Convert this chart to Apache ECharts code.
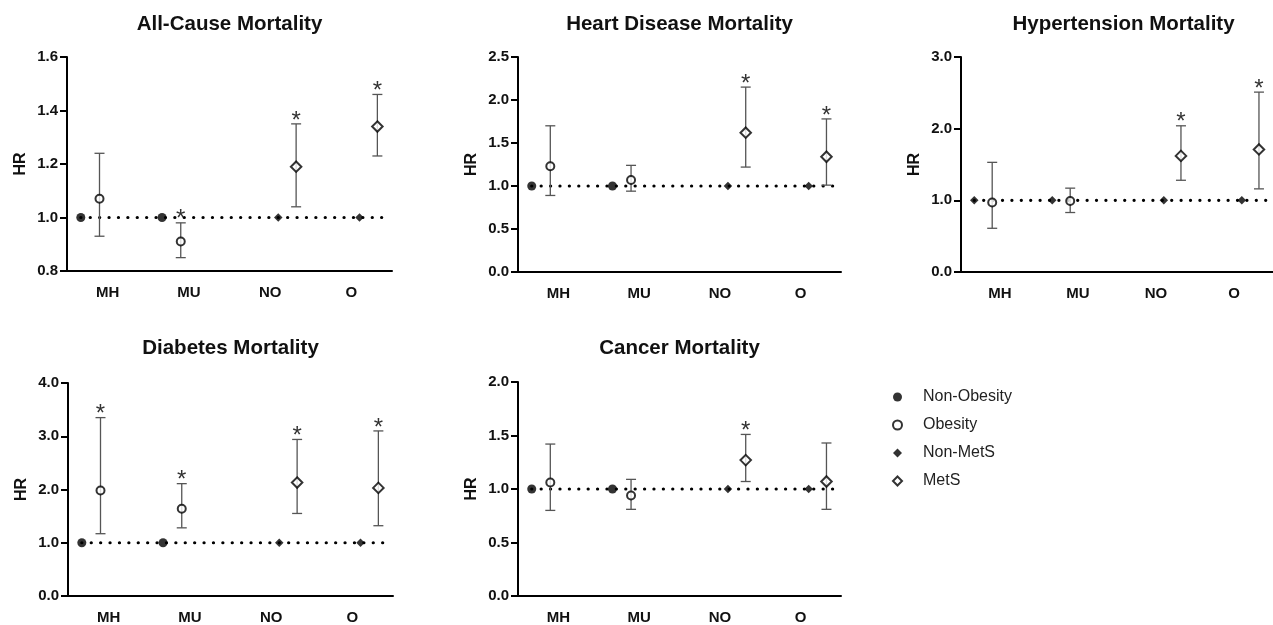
<!DOCTYPE html>
<html>
<head>
<meta charset="utf-8">
<script src="https://cdn.jsdelivr.net/npm/echarts@6/dist/echarts.min.js"></script>
<style>
html,body{margin:0;padding:0;background:#fff;}
#chart{width:1273px;height:625px;}
</style>
</head>
<body>
<div id="chart"></div>
<script>
// ---------- DATA ----------
const categories = ['MH', 'MU', 'NO', 'O'];
const seriesNames = ['Non-Obesity', 'Obesity', 'Non-MetS', 'MetS'];
const panelTitles = ['All-Cause Mortality', 'Heart Disease Mortality', 'Hypertension Mortality', 'Diabetes Mortality', 'Cancer Mortality'];
const yAxisName = 'HR';
const yMin = [0.8, 0, 0, 0, 0];
const yMax = [1.6, 2.5, 3.0, 4.0, 2.0];
const yStep = [0.2, 0.5, 1.0, 1.0, 0.5];
const referenceHR = [1, 1, 1, 1];   // Non-Obesity (MH, MU) and Non-MetS (NO, O)
const refLineValue = 1;

const allCauseHR   = [1.07, 0.91, 1.19, 1.34];
const allCauseLow  = [0.93, 0.85, 1.04, 1.23];
const allCauseHigh = [1.24, 0.98, 1.35, 1.46];
const allCauseSig  = [0, 1, 1, 1];

const heartHR   = [1.23, 1.07, 1.62, 1.34];
const heartLow  = [0.89, 0.94, 1.22, 1.01];
const heartHigh = [1.70, 1.24, 2.15, 1.78];
const heartSig  = [0, 0, 1, 1];

const hypertensionHR   = [0.97, 0.99, 1.62, 1.71];
const hypertensionLow  = [0.61, 0.83, 1.28, 1.16];
const hypertensionHigh = [1.53, 1.17, 2.04, 2.51];
const hypertensionSig  = [0, 0, 1, 1];

const diabetesHR   = [1.98, 1.64, 2.13, 2.03];
const diabetesLow  = [1.17, 1.28, 1.55, 1.32];
const diabetesHigh = [3.35, 2.11, 2.94, 3.10];
const diabetesSig  = [1, 1, 1, 1];

const cancerHR   = [1.06, 0.94, 1.27, 1.07];
const cancerLow  = [0.80, 0.81, 1.07, 0.81];
const cancerHigh = [1.42, 1.09, 1.51, 1.43];
const cancerSig  = [0, 0, 1, 0];

// ---------- LAYOUT ----------
const panels = [
  {hr: allCauseHR, lo: allCauseLow, hi: allCauseHigh, sig: allCauseSig},
  {hr: heartHR, lo: heartLow, hi: heartHigh, sig: heartSig},
  {hr: hypertensionHR, lo: hypertensionLow, hi: hypertensionHigh, sig: hypertensionSig, refDiamond: true},
  {hr: diabetesHR, lo: diabetesLow, hi: diabetesHigh, sig: diabetesSig},
  {hr: cancerHR, lo: cancerLow, hi: cancerHigh, sig: cancerSig}
];
const grids = [
  {left: 67, top: 57, width: 325, height: 214},
  {left: 518, top: 57, width: 323, height: 215},
  {left: 961, top: 57, width: 325, height: 215},
  {left: 68, top: 383, width: 325, height: 214},
  {left: 518, top: 382, width: 323, height: 214}
];
const titleTops = [14, 14, 14, 338, 338];
const refOffset = [-0.33, -0.33, 0.10, 0.10];
const cmpOffset = [-0.10, -0.10, 0.32, 0.32];
const refIsObesity = [true, true, false, false];

const FONT = 'Liberation Sans, Arial, Helvetica, sans-serif';
const INK = '#111';

const option = {
  backgroundColor: '#fff',
  animation: false,
  title: [], grid: [], xAxis: [], yAxis: [], series: [],
  legend: {
    orient: 'vertical',
    left: 892, top: 389,
    itemWidth: 9, itemHeight: 9, itemGap: 12,
    padding: 0,
    textStyle: {fontFamily: FONT, fontSize: 16, color: '#222', padding: [0, 0, 0, 16]},
    data: [
      {name: 'Non-Obesity', icon: 'circle'},
      {name: 'Obesity', icon: 'circle'},
      {name: 'Non-MetS', icon: 'diamond'},
      {name: 'MetS', icon: 'diamond'}
    ],
    selectedMode: false
  }
};

panels.forEach((p, i) => {
  const g = grids[i];
  option.grid.push(Object.assign({containLabel: false}, g));
  option.title.push({
    text: panelTitles[i],
    left: g.left + g.width / 2, top: titleTops[i],
    textAlign: 'center', padding: 0,
    textStyle: {fontFamily: FONT, fontSize: 20.5, fontWeight: 'bold', color: INK}
  });
  // category axis (display)
  option.xAxis.push({
    type: 'category', gridIndex: i, data: categories, boundaryGap: true,
    axisLine: {onZero: false, lineStyle: {color: '#000', width: 2}},
    axisTick: {alignWithLabel: true, length: 7, lineStyle: {color: '#000', width: 2}},
    axisLabel: {fontFamily: FONT, fontSize: 15, fontWeight: 'bold', color: INK, margin: 14},
    splitLine: {show: false}
  });
  // hidden value axis for placing points
  option.xAxis.push({
    type: 'value', gridIndex: i, min: -0.5, max: 3.5, show: false,
    axisLine: {onZero: false}
  });
  option.yAxis.push({
    type: 'value', gridIndex: i, min: yMin[i], max: yMax[i], interval: yStep[i],
    name: yAxisName, nameLocation: 'middle', nameGap: 38,
    nameTextStyle: {fontFamily: FONT, fontSize: 16, fontWeight: 'bold', color: INK},
    axisLine: {show: true, onZero: false, lineStyle: {color: '#000', width: 2}},
    axisTick: {show: true, length: 7, lineStyle: {color: '#000', width: 2}},
    axisLabel: {fontFamily: FONT, fontSize: 15, fontWeight: 'bold', color: INK, margin: 9,
      formatter: v => v.toFixed(1)},
    splitLine: {show: false}
  });
  const xi = i * 2 + 1;

  // dotted reference line
  option.series.push({
    type: 'line', xAxisIndex: xi, yAxisIndex: i, symbol: 'none', silent: true,
    data: [[-0.33, refLineValue], [3.47, refLineValue]],
    lineStyle: {color: '#000', width: 3.2, type: [0.1, 9.3], cap: 'round'},
    z: 1
  });

  // error bars + significance stars
  const ebData = categories.map((c, k) => [k + cmpOffset[k], p.lo[k], p.hi[k], p.sig[k]]);
  option.series.push({
    type: 'custom', xAxisIndex: xi, yAxisIndex: i, silent: true, z: 2,
    encode: {x: 0, y: [1, 2]},
    data: ebData,
    renderItem: (params, api) => {
      const x = api.value(0);
      const lo = api.coord([x, api.value(1)]);
      const hi = api.coord([x, api.value(2)]);
      const hw = 5;
      const ls = {stroke: '#555', lineWidth: 1.3};
      const children = [
        {type: 'line', shape: {x1: lo[0], y1: lo[1], x2: hi[0], y2: hi[1]}, style: ls},
        {type: 'line', shape: {x1: lo[0] - hw, y1: lo[1], x2: lo[0] + hw, y2: lo[1]}, style: ls},
        {type: 'line', shape: {x1: hi[0] - hw, y1: hi[1], x2: hi[0] + hw, y2: hi[1]}, style: ls}
      ];
      if (api.value(3)) {
        children.push({type: 'text', style: {text: '*', x: hi[0], y: hi[1] - 3,
          align: 'center', verticalAlign: 'middle', font: '24px ' + FONT, fill: '#333'}});
      }
      return {type: 'group', children: children};
    }
  });

  // scatter markers
  const nonOb = [], ob = [], nonMets = [], mets = [];
  categories.forEach((c, k) => {
    if (refIsObesity[k]) {
      nonOb.push([k + refOffset[k], referenceHR[k]]);
      ob.push([k + cmpOffset[k], p.hr[k]]);
    } else {
      nonMets.push([k + refOffset[k], referenceHR[k]]);
      mets.push([k + cmpOffset[k], p.hr[k]]);
    }
  });
  option.series.push({
    name: seriesNames[0], type: 'scatter', xAxisIndex: xi, yAxisIndex: i, z: 5,
    symbol: p.refDiamond ? 'diamond' : 'circle', symbolSize: p.refDiamond ? 8.5 : 9,
    itemStyle: {color: '#000'}, data: nonOb
  });
  option.series.push({
    name: seriesNames[1], type: 'scatter', xAxisIndex: xi, yAxisIndex: i, z: 5,
    symbol: 'circle', symbolSize: 8,
    itemStyle: {color: '#fff', borderColor: '#000', borderWidth: 2}, data: ob
  });
  option.series.push({
    name: seriesNames[2], type: 'scatter', xAxisIndex: xi, yAxisIndex: i, z: 5,
    symbol: 'diamond', symbolSize: 8.5,
    itemStyle: {color: '#000'}, data: nonMets
  });
  option.series.push({
    name: seriesNames[3], type: 'scatter', xAxisIndex: xi, yAxisIndex: i, z: 5,
    symbol: 'diamond', symbolSize: [10.5, 10.5],
    itemStyle: {color: '#fff', borderColor: '#000', borderWidth: 2}, data: mets
  });
});

const chart = echarts.init(document.getElementById('chart'), null, {renderer: 'canvas'});
chart.setOption(option);
</script>
</body>
</html>
